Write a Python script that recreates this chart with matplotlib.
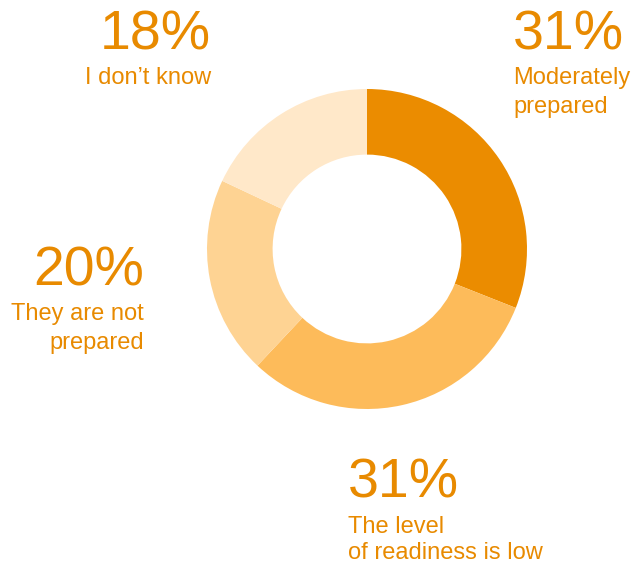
import matplotlib

matplotlib.use("Agg")
import matplotlib.pyplot as plt

plt.rcParams["font.family"] = ["Liberation Sans", "DejaVu Sans"]

# survey answers, clockwise from 12 o'clock
labels = [["Moderately", "prepared"], ["The level", "of readiness is low"],
          ["They are not", "prepared"], ["I don\u2019t know"]]
shares = [31, 31, 20, 18]
colors = ["#EB8C00", "#FDBB5A", "#FED393", "#FFE8C9"]
text_color = "#E88A00"

W, H = 637, 563
fig = plt.figure(figsize=(W / 100, H / 100), dpi=100)

# donut centred at (367, 249) px, outer radius 160 px
cx, cy, r = 367, 249, 160
ax = fig.add_axes([(cx - r) / W, (H - cy - r) / H, 2 * r / W, 2 * r / H])
ax.pie(shares, colors=colors, startangle=90, counterclock=False, radius=1,
       wedgeprops=dict(width=0.41, edgecolor="none"))
ax.set_xlim(-1, 1)
ax.set_ylim(-1, 1)
ax.set_aspect("equal")
ax.axis("off")


def put(x, y, s, size, ha):
    fig.text(x / W, 1 - y / H, s, fontsize=size, color=text_color,
             ha=ha, va="baseline")


# (x, baseline of percent, baseline of first label line, line step, alignment)
spots = [(513, 49, 84, 29, "left"), (348, 498, 533, 26, "left"),
         (144, 285, 320, 29, "right"), (211, 49, 84, 29, "right")]
for (x, yp, yl, step, ha), lines, v in zip(spots, labels, shares):
    put(x, yp, f"{v}%", 40, ha)
    for i, line in enumerate(lines):
        put(x, yl + step * i, line, 17, ha)

fig.savefig("out.png", dpi=100)
plt.close()
